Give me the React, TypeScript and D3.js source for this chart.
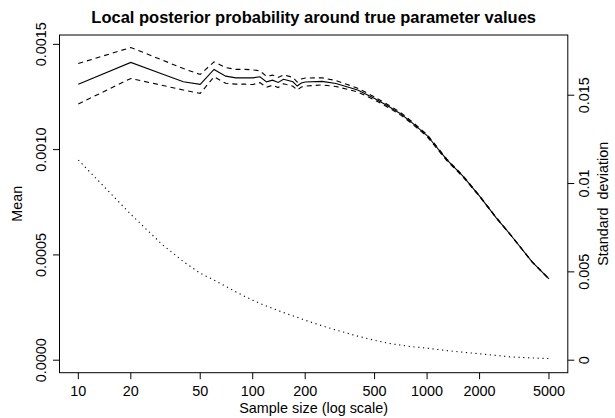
import React, {useEffect, useRef} from 'react';
import * as d3 from 'd3';

const WIDTH = 615;
const HEIGHT = 418;
const FONT = '"Liberation Sans", Arial, Helvetica, sans-serif';
const FONT_SIZE = 14.4;

// plot region (R puts the box here)
const margin = {top: 35, right: 47.2, bottom: 45.3, left: 59.5};

const CHART_TITLE = 'Local posterior probability around true parameter values';
const X_LABEL = 'Sample size (log scale)';
const Y_LABEL = 'Mean';
const Y2_LABEL = 'Standard  deviation';

const sampleSizes = [
    10, 20, 30, 40, 50, 60, 70, 80, 90, 100, 110, 120, 130, 140, 150, 160, 170, 180, 190, 200,
    250, 300, 400, 500, 600, 700, 800, 1000, 1300, 1600, 2000, 2500, 3000, 4000, 5000,
];

const meanValues = [
    0.001311, 0.001414, 0.001360, 0.001322, 0.001310, 0.001381, 0.001349, 0.001341, 0.001341,
    0.001341, 0.001346, 0.001322, 0.001330, 0.001319, 0.001334, 0.001328, 0.001322, 0.001302,
    0.001316, 0.001321, 0.001324, 0.001314, 0.001283, 0.001243, 0.001206, 0.001172, 0.001135,
    0.001067, 0.000951, 0.000875, 0.000779, 0.000675, 0.000597, 0.000467, 0.000386,
];

const upperValues = [
    0.001409, 0.001485, 0.001427, 0.001385, 0.001357, 0.001417, 0.001390, 0.001381, 0.001381,
    0.001379, 0.001374, 0.001348, 0.001354, 0.001343, 0.001355, 0.001349, 0.001343, 0.001321,
    0.001335, 0.001340, 0.001341, 0.001328, 0.001292, 0.001250, 0.001212, 0.001178, 0.001140,
    0.001072, 0.000955, 0.000878, 0.000781, 0.000677, 0.000598, 0.000468, 0.000387,
];

const lowerValues = [
    0.001217, 0.001338, 0.001306, 0.001283, 0.001267, 0.001346, 0.001315, 0.001311, 0.001311,
    0.001309, 0.001318, 0.001296, 0.001306, 0.001295, 0.001313, 0.001307, 0.001301, 0.001283,
    0.001297, 0.001302, 0.001307, 0.001300, 0.001274, 0.001236, 0.001200, 0.001166, 0.001130,
    0.001062, 0.000947, 0.000872, 0.000777, 0.000673, 0.000596, 0.000466, 0.000385,
];

const sdValues = [
    0.01133, 0.008258, 0.006584, 0.005582, 0.004921, 0.004536, 0.004185, 0.003869, 0.003609,
    0.003399, 0.003213, 0.003066, 0.002935, 0.002811, 0.002698, 0.002602, 0.002511, 0.002426,
    0.002342, 0.002262, 0.001946, 0.001708, 0.001363, 0.001126, 0.000956, 0.000860, 0.000775,
    0.000679, 0.000543, 0.000452, 0.000362, 0.000266, 0.000187, 0.000124, 0.000096,
];

const xTicks = [10, 20, 50, 100, 200, 500, 1000, 2000, 5000];
const yTicks = [0, 0.0005, 0.001, 0.0015];
const yTickLabels = ['0.0000', '0.0005', '0.0010', '0.0015'];
const y2Ticks = [0, 0.005, 0.01, 0.015];
const y2TickLabels = ['0', '0.005', '0.01', '0.015'];
const Y2_LIMIT = 0.0177;

const TICK_LENGTH = 6.5;

// R style 4% padding around a range
const padRange = (lo: number, hi: number): [number, number] => {
    const pad = (hi - lo) * 0.04;
    return [lo - pad, hi + pad];
};

const ChartR = () => {
    const svgRef = useRef<SVGSVGElement>(null);

    useEffect(() => {
        document.body.style.margin = '0';

        const svg = d3.select(svgRef.current);
        svg.selectAll('*').remove();

        const left = margin.left;
        const right = WIDTH - margin.right;
        const top = margin.top;
        const bottom = HEIGHT - margin.bottom;

        const logExtent = d3.extent(sampleSizes.map(Math.log10)) as [number, number];
        const [lx0, lx1] = padRange(logExtent[0], logExtent[1]);
        const x = d3.scaleLog().domain([10 ** lx0, 10 ** lx1]).range([left, right]);

        const y = d3.scaleLinear()
            .domain(padRange(0, d3.max(upperValues) || 0))
            .range([bottom, top]);
        const y2 = d3.scaleLinear()
            .domain(padRange(0, Y2_LIMIT))
            .range([bottom, top]);

        const g = svg.append('g').style('font-family', FONT).style('font-size', `${FONT_SIZE}px`);

        // Lines
        const drawLine = (values: number[], scale: d3.ScaleLinear<number, number>, dash: string | null) => {
            const line = d3.line<number>()
                .x((_, i) => x(sampleSizes[i]))
                .y(v => scale(v));
            g.append('path')
                .datum(values)
                .attr('d', line)
                .attr('fill', 'none')
                .attr('stroke', 'black')
                .attr('stroke-width', 1.1)
                .attr('stroke-dasharray', dash);
        };

        drawLine(sdValues, y2, '1.2,3.6');
        drawLine(upperValues, y, '5,4');
        drawLine(lowerValues, y, '5,4');
        drawLine(meanValues, y, null);

        // Box
        g.append('rect')
            .attr('x', left)
            .attr('y', top)
            .attr('width', right - left)
            .attr('height', bottom - top)
            .attr('fill', 'none')
            .attr('stroke', 'black')
            .attr('stroke-width', 1);

        // Bottom axis
        xTicks.forEach(t => {
            g.append('line')
                .attr('x1', x(t)).attr('x2', x(t))
                .attr('y1', bottom).attr('y2', bottom + TICK_LENGTH)
                .attr('stroke', 'black');
            g.append('text')
                .attr('x', x(t))
                .attr('y', 396)
                .attr('text-anchor', 'middle')
                .text(String(t));
        });

        // Left axis
        yTicks.forEach((t, i) => {
            g.append('line')
                .attr('x1', left - TICK_LENGTH).attr('x2', left)
                .attr('y1', y(t)).attr('y2', y(t))
                .attr('stroke', 'black');
            g.append('text')
                .attr('transform', `translate(45.5,${y(t)}) rotate(-90)`)
                .attr('text-anchor', 'middle')
                .text(yTickLabels[i]);
        });

        // Right axis
        y2Ticks.forEach((t, i) => {
            g.append('line')
                .attr('x1', right).attr('x2', right + TICK_LENGTH)
                .attr('y1', y2(t)).attr('y2', y2(t))
                .attr('stroke', 'black');
            g.append('text')
                .attr('transform', `translate(588.5,${y2(t)}) rotate(-90)`)
                .attr('text-anchor', 'middle')
                .text(y2TickLabels[i]);
        });

        const midX = (left + right) / 2;
        const midY = (top + bottom) / 2;

        g.append('text')
            .attr('x', midX)
            .attr('y', 413)
            .attr('text-anchor', 'middle')
            .text(X_LABEL);

        g.append('text')
            .attr('transform', `translate(22,${midY}) rotate(-90)`)
            .attr('text-anchor', 'middle')
            .text(Y_LABEL);

        g.append('text')
            .attr('transform', `translate(608,${midY}) rotate(-90)`)
            .attr('text-anchor', 'middle')
            .style('white-space', 'pre')
            .text(Y2_LABEL);

        g.append('text')
            .attr('x', midX)
            .attr('y', 23)
            .attr('text-anchor', 'middle')
            .style('font-size', '16.5px')
            .style('font-weight', 'bold')
            .text(CHART_TITLE);
    }, []);

    return (
        <svg
            ref={svgRef}
            width={WIDTH}
            height={HEIGHT}
            style={{position: 'fixed', left: 0, top: 0, background: 'white'}}
        />
    );
};

export default function App() {
    return <ChartR/>;
}
